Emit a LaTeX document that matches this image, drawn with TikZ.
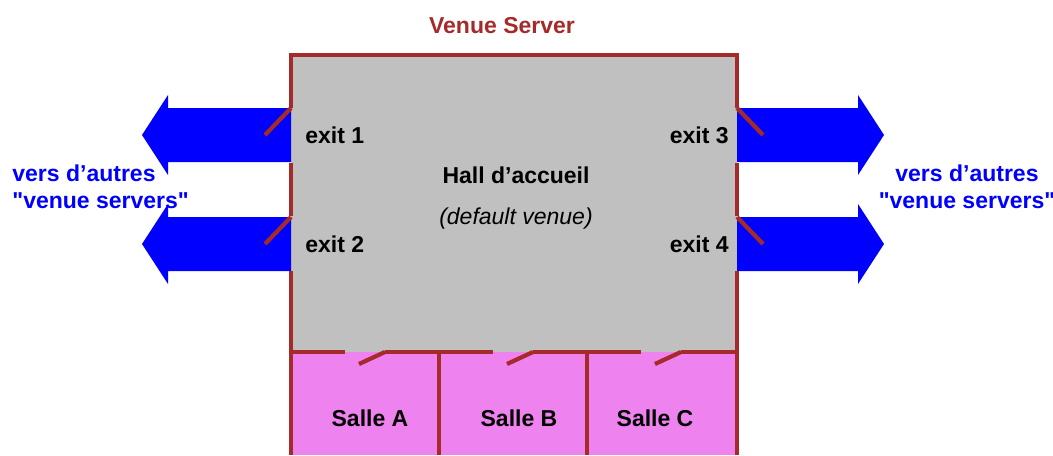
\documentclass[tikz,border=0pt]{standalone}
\usepackage{fontspec}
\setmainfont{Liberation Sans}
\usepackage{tikz}
\usetikzlibrary{positioning}
\usepackage{xcolor}
\definecolor{wallred}{RGB}{165,42,42}
\definecolor{hallgray}{RGB}{192,192,192}
\definecolor{sallepink}{RGB}{238,130,238}

\begin{document}
\begin{tikzpicture}[x=0.5pt,y=-0.5pt,
    wall/.style={wallred,line width=2.1pt,line join=miter},
    lbl/.style={font=\fontsize{11.5}{13.5}\selectfont\bfseries,inner sep=0pt},
    bluelbl/.style={lbl,text=blue,align=center}]
                    \useasboundingbox (0,0) rectangle (1053,455);
                    % fonds
                    \fill[hallgray] (291,55) rectangle (737,352);
                    \fill[sallepink] (291,352) rectangle (737,455);
                    % fleches vers les autres serveurs
                    \foreach \y in {135,244} {
                        \fill[blue] (291,\y-27) -- (168,\y-27) -- (168,\y-40) -- (142,\y)
                            -- (168,\y+40) -- (168,\y+27) -- (291,\y+27) -- cycle;
                        \fill[blue] (737,\y-27) -- (858,\y-27) -- (858,\y-40) -- (884,\y)
                            -- (858,\y+40) -- (858,\y+27) -- (737,\y+27) -- cycle;
                        \draw[wall] (291,\y-27) -- (265,\y);
                        \draw[wall] (737,\y-27) -- (763,\y);
                    }
                    % murs du hall
                    \draw[wall] (291,108) -- (291,55) -- (737,55) -- (737,108);
                    \draw[wall] (291,163) -- (291,216);
                    \draw[wall] (737,163) -- (737,216);
                    \draw[wall] (291,271) -- (291,455);
                    \draw[wall] (737,271) -- (737,455);
                    % salles
                    \foreach \x/\w/\s/\lx in {291/148/A/79,439/148/B/80,587/150/C/68} {
                        \draw[wall] (\x,352) -- (\x+54,352);
                        \draw[wall] (\x+94,352) -- (\x+\w,352);
                        \draw[wall] (\x+94,352) -- (\x+68,364);
                        \draw[wall] (\x+\w,352) -- (\x+\w,455);
                        \node[lbl] (salle\s) at (\x+\lx,418) {Salle \s};
                    }
                    \node[lbl,text=wallred] (title) at (502,26) {Venue Server};
                    \node[lbl] (hall) at (516,175) {Hall d’accueil};
                    \node[inner sep=0pt,font=\fontsize{11.5}{13.5}\selectfont\itshape,below=12pt of hall] (defv) {(default venue)};
                    \node[lbl,anchor=west] (exit1) at (305,135) {exit 1};
                    \node[lbl,anchor=west] (exit2) at (305,244) {exit 2};
                    \node[lbl,anchor=east] (exit3) at (729,135) {exit 3};
                    \node[lbl,anchor=east] (exit4) at (729,244) {exit 4};
                    \node[bluelbl,align=left,anchor=west] (versg) at (12,187) {vers d’autres\\\textquotedbl venue servers\textquotedbl};
                    \node[bluelbl] (versd) at (967,187) {vers d’autres\\\textquotedbl venue servers\textquotedbl};
                \end{tikzpicture}
\end{document}
